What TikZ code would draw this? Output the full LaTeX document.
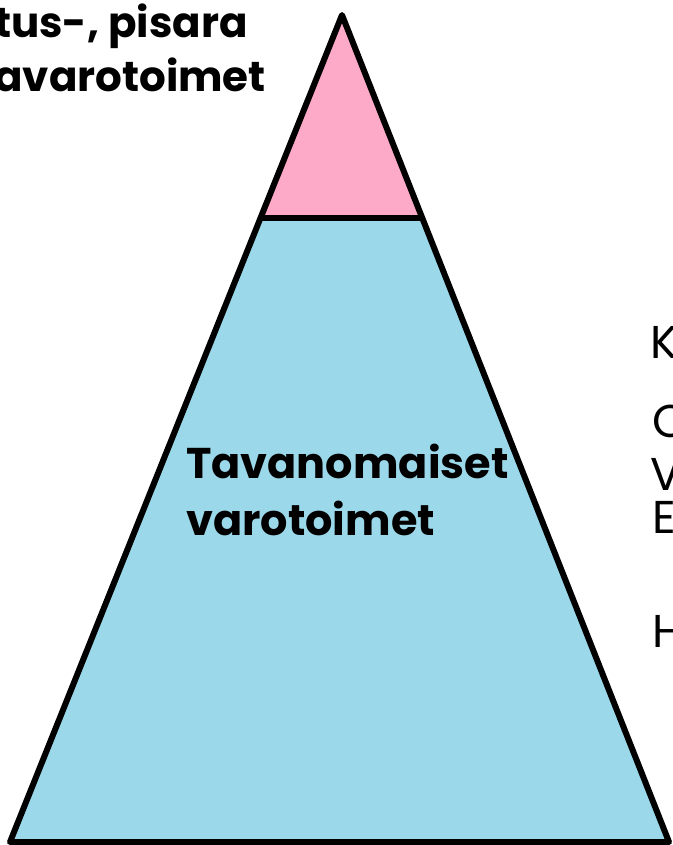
\documentclass[tikz,border=0pt]{standalone}
\usepackage{fontspec}
\setmainfont{Poppins}
\usetikzlibrary{calc}
\definecolor{topPink}{HTML}{FDAAC8}
\definecolor{baseBlue}{HTML}{9BD9EA}

\begin{document}
\begin{tikzpicture}[
  x=1pt, y=-1pt,
  edge/.style={line width=6pt, line join=round},
  title/.style={inner sep=0pt, align=left, font=\fontsize{43}{57}\selectfont\bfseries},
  corner/.style={inner sep=0pt, align=left, font=\fontsize{42}{54}\selectfont\bfseries},
  side/.style={inner sep=0pt, anchor=base west, font=\fontsize{46}{46}\selectfont}
]
\useasboundingbox (0,0) rectangle (672,845);

\coordinate (apex) at (342,15);
\coordinate (bl) at (10,842);
\coordinate (br) at (669,842);
\coordinate (cutl) at ($(apex)!0.2455!(bl)$);
\coordinate (cutr) at ($(apex)!0.2455!(br)$);

\fill[baseBlue] (cutl) -- (cutr) -- (br) -- (bl) -- cycle;
\fill[topPink] (apex) -- (cutr) -- (cutl) -- cycle;
\draw[edge] (apex) -- (br) -- (bl) -- cycle;
\draw[edge] (cutl) -- (cutr);

\node[corner, anchor=base west] (extra) at (-6,92) {tus-, pisara\\avarotoimet};
\node[title, anchor=base west] (standard) at (186,535) {Tavanomaiset\\varotoimet};

\node[side] (k) at (650,358) {K};
\node[side] (o) at (652,437) {O};
\node[side] (v) at (650,490) {V};
\node[side] (e) at (652,533) {E};
\node[side] (h) at (652,647) {H};

\end{tikzpicture}
\end{document}
